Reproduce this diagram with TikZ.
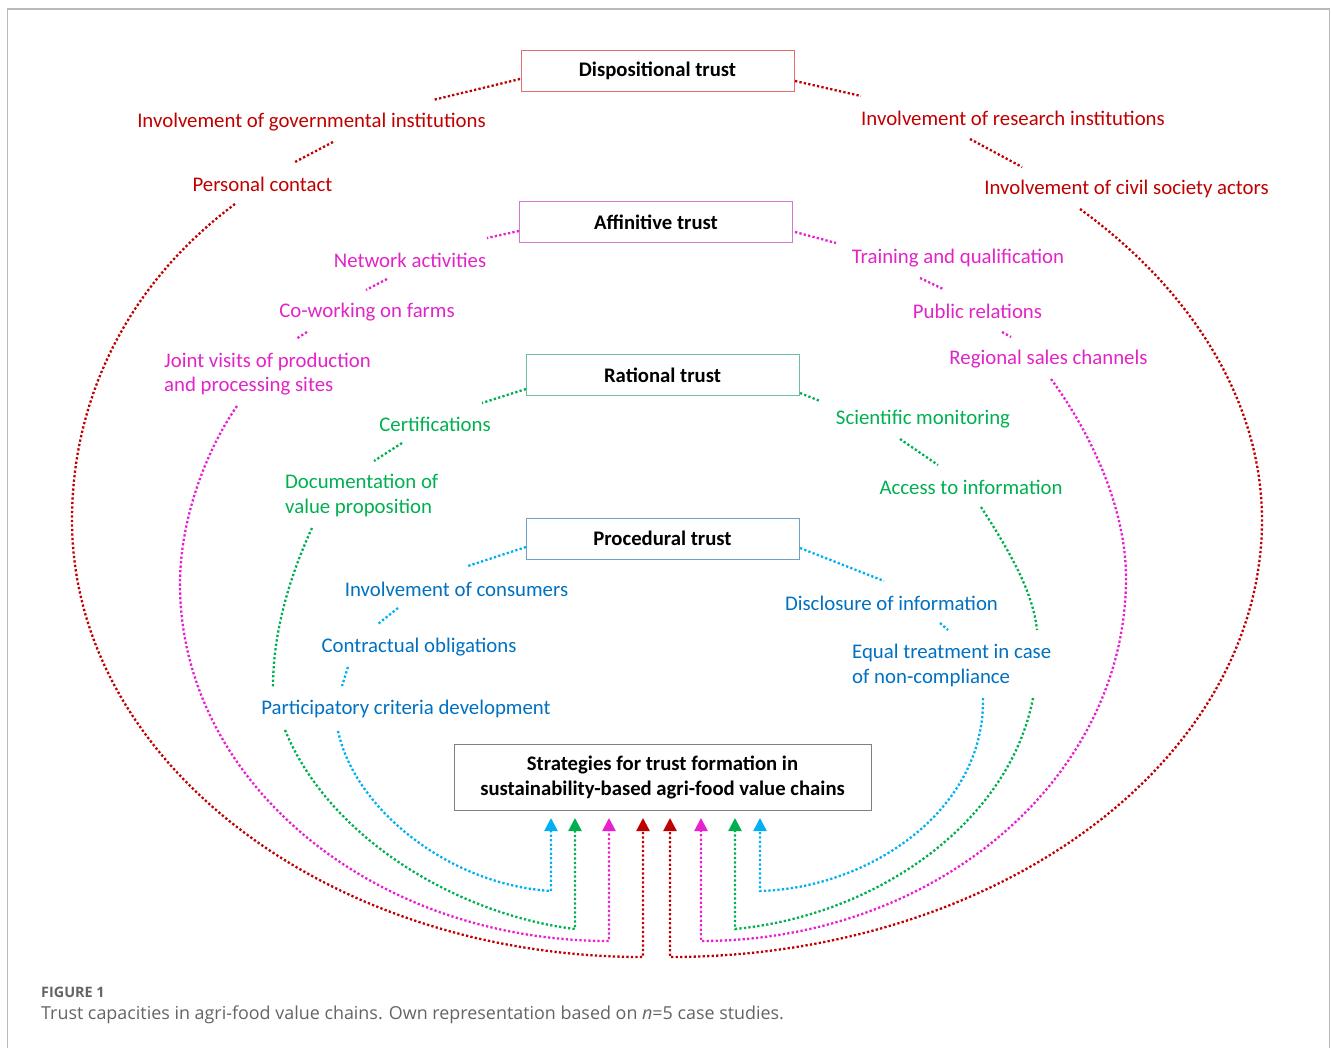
\documentclass[tikz,border=0pt]{standalone}
\usepackage{fontspec}
\setmainfont{Carlito}
\newfontfamily\capfont{Open Sans}
\usetikzlibrary{arrows.meta}
\definecolor{dred}{RGB}{192,0,0}
\definecolor{magt}{RGB}{226,36,198}
\definecolor{magl}{RGB}{232,32,210}
\definecolor{grn}{RGB}{0,176,80}
\definecolor{blut}{RGB}{0,112,192}
\definecolor{blul}{RGB}{0,176,240}
\definecolor{redbox}{RGB}{228,110,110}
\definecolor{magbox}{RGB}{210,120,210}
\definecolor{grnbox}{RGB}{110,190,160}
\definecolor{blubox}{RGB}{110,160,200}
\definecolor{capgray}{RGB}{100,100,100}
\tikzset{
  tbox/.style={draw, line width=1pt, minimum width=273pt, minimum height=41pt, inner sep=0pt,
    font=\bfseries\fontsize{20.7}{25}\selectfont, fill=white},
  lab/.style={font=\fontsize{20.8}{24.5}\selectfont, inner sep=0pt},
  dl/.style={line width=2.3pt, dash pattern=on 2.3pt off 2.2pt},
  tip/.style={-{Triangle[length=13pt,width=13pt]}}
}
\begin{document}
\begin{tikzpicture}[x=1pt,y=-1pt]
\useasboundingbox (0,0) rectangle (1331,1048);
% frame
\draw[gray!55, line width=1.3pt] (7.5,1050) -- (7.5,9) -- (1329.5,9) -- (1329.5,1050);

% boxes
\node[tbox, draw=redbox] (disp) at (657.5,71) {Dispositional trust};
\node[tbox, draw=magbox] (aff) at (656,222.5) {Affinitive trust};
\node[tbox, draw=grnbox] (rat) at (662.5,375.5) {Rational trust};
\node[tbox, draw=blubox] (proc) at (662.5,538.5) {Procedural trust};
\node[draw=gray, line width=1pt, minimum width=417pt, minimum height=66pt, inner sep=0pt, align=center,
  font=\bfseries\fontsize{20.7}{25}\selectfont] (strat) at (662.5,777)
  {Strategies for trust formation in\\sustainability-based agri-food value chains};

% red labels
\node[lab, text=dred] (gov) at (311.5,122) {Involvement of governmental institutions};
\node[lab, text=dred] (pers) at (262.5,184) {Personal contact};
\node[lab, text=dred] (res) at (1013,118) {Involvement of research institutions};
\node[lab, text=dred] (civ) at (1126.5,189) {Involvement of civil society actors};
% magenta labels
\node[lab, text=magt] (net) at (410,260) {Network activities};
\node[lab, text=magt] (cow) at (367,312) {Co-working on farms};
\node[lab, text=magt, align=left, anchor=west] (joint) at (164,374) {Joint visits of production\\and processing sites};
\node[lab, text=magt] (train) at (958,258) {Training and qualification};
\node[lab, text=magt] (pub) at (977.5,311) {Public relations};
\node[lab, text=magt] (reg) at (1048.5,359) {Regional sales channels};
% green labels
\node[lab, text=grn] (cert) at (435,424) {Certifications};
\node[lab, text=grn, align=left, anchor=west] (doc) at (285,495.5) {Documentation of\\value proposition};
\node[lab, text=grn] (sci) at (923,419) {Scientific monitoring};
\node[lab, text=grn] (acc) at (971,487) {Access to information};
% blue labels
\node[lab, text=blut] (cons) at (456.5,589) {Involvement of consumers};
\node[lab, text=blut] (contr) at (419,647) {Contractual obligations};
\node[lab, text=blut] (part) at (406,709) {Participatory criteria development};
\node[lab, text=blut] (disc) at (891.5,603) {Disclosure of information};
\node[lab, text=blut, align=left, anchor=west] (equal) at (852,665.5) {Equal treatment in case\\of non-compliance};

% end coordinates of the arrows
\coordinate (aR1) at (643,818); \coordinate (aR2) at (670,818);
\coordinate (aM1) at (609,818); \coordinate (aM2) at (701,818);
\coordinate (aG1) at (575,818); \coordinate (aG2) at (735,818);
\coordinate (aB1) at (551,818); \coordinate (aB2) at (760,818);

% ---- red (dispositional)
\draw[dl, dred] (520,79) -- (433,100);
\draw[dl, dred] (333,142) -- (295,162);
\draw[dl, dred] (795,81) -- (861,96);
\draw[dl, dred] (970,139) -- (1022,167);
\draw[dl, dred, tip] (235,204) .. controls (125,286) and (72,402) .. (72,520)
  .. controls (72,761) and (328,957) .. (643,957) -- (aR1);
\draw[dl, dred, tip] (1080,209) .. controls (1193,291) and (1262,403) .. (1262,520)
  .. controls (1262,761) and (997,957) .. (670,957) -- (aR2);

% ---- magenta (affinitive)
\draw[dl, magl] (519,231) -- (487,238);
\draw[dl, magl] (387,279) -- (366,290);
\draw[dl, magl] (307,332) -- (296,339);
\draw[dl, magl] (795,232) -- (836,243);
\draw[dl, magl] (920,278) -- (943,289);
\draw[dl, magl] (1002,332) -- (1011,337);
\draw[dl, magl, tip] (237,406) .. controls (205,452) and (180,521) .. (180,584)
  .. controls (180,781) and (372,941) .. (609,941) -- (aM1);
\draw[dl, magl, tip] (1051,379) .. controls (1090,432) and (1126,507) .. (1126,578)
  .. controls (1126,778) and (936,941) .. (701,941) -- (aM2);

% ---- green (rational)
\draw[dl, grn] (526,389) -- (482,403);
\draw[dl, grn] (402,443) -- (374,461);
\draw[dl, grn] (800,393) -- (820,401);
\draw[dl, grn] (900,439) -- (938,465);
\draw[dl, grn] (312,528) .. controls (288,580) and (273,635) .. (273,687);
\draw[dl, grn, tip] (285,730) .. controls (330,840) and (460,915) .. (575,929) -- (aG1);
\draw[dl, grn] (981,507) .. controls (1010,552) and (1033,592) .. (1037,630);
\draw[dl, grn, tip] (1033,698) .. controls (1010,820) and (880,915) .. (735,929) -- (aG2);

% ---- blue (procedural)
\draw[dl, blul] (526,547) -- (468,566);
\draw[dl, blul] (398,608) -- (378,624);
\draw[dl, blul] (348,667) -- (342,686);
\draw[dl, blul] (800,548) -- (884,581);
\draw[dl, blul] (940,623) -- (948,630);
\draw[dl, blul, tip] (338,731) .. controls (355,810) and (450,885) .. (551,891) -- (aB1);
\draw[dl, blul, tip] (983,698) .. controls (985,810) and (870,888) .. (760,891) -- (aB2);

% caption
\node[anchor=west, inner sep=0pt, text=capgray, font=\capfont\bfseries\fontsize{14.4}{16}\selectfont] (fig) at (41,992) {FIGURE 1};
\node[anchor=west, inner sep=0pt, text=capgray, font=\capfont\fontsize{17.9}{21}\selectfont] (cap) at (41,1015)
  {Trust capacities in agri-food value chains. Own representation based on \textit{n}=5 case studies.};
\end{tikzpicture}
\end{document}
